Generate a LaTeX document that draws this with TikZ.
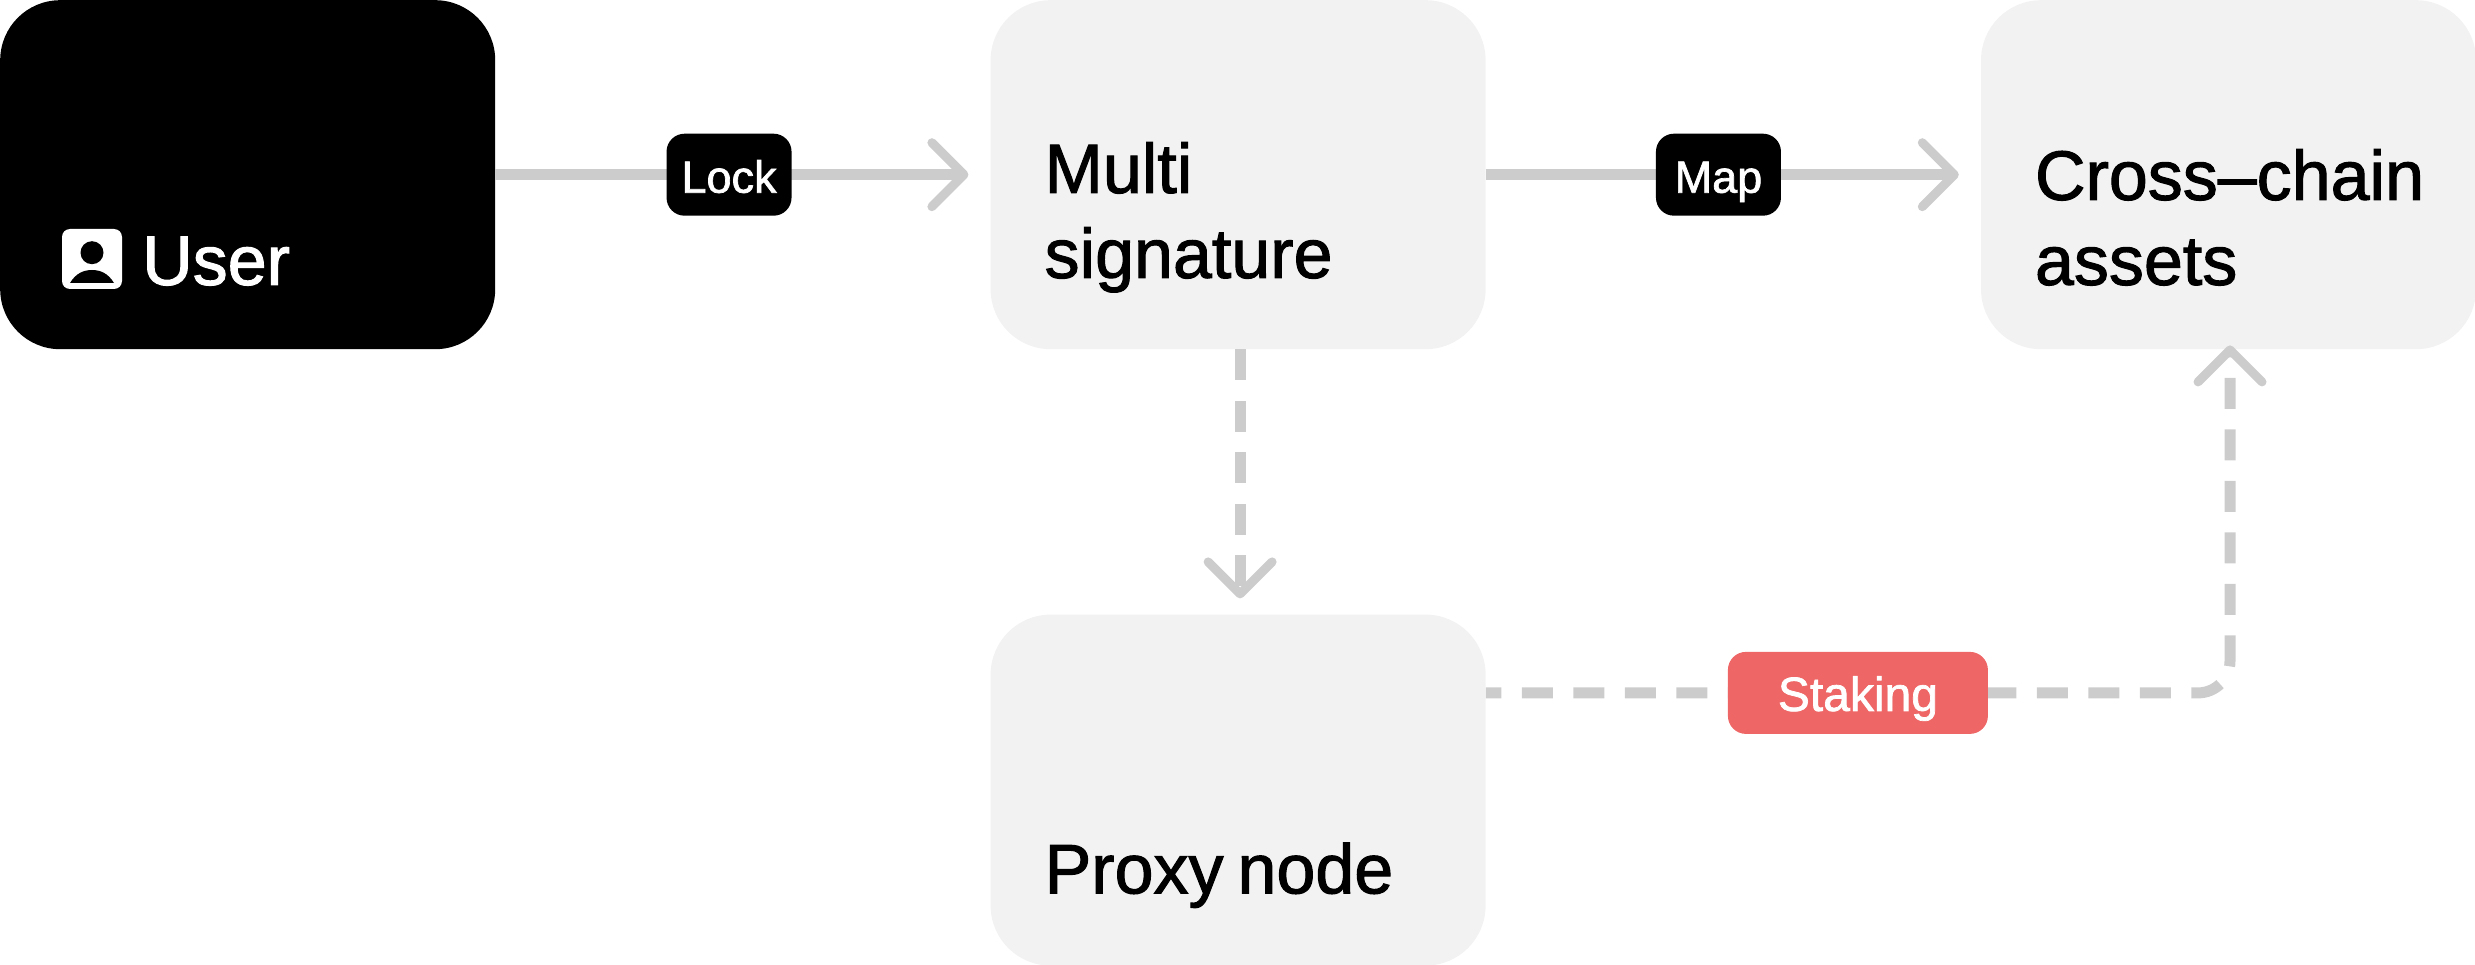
\documentclass[tikz,border=0pt]{standalone}
\usepackage{fontspec}
\setmainfont{Liberation Sans}[FakeBold=1.5]
\usetikzlibrary{arrows.meta, positioning, shapes.geometric}
\definecolor{boxgray}{HTML}{F2F2F2}
\definecolor{linegray}{HTML}{CCCCCC}
\definecolor{tagred}{HTML}{EE6666}

\begin{document}
\begin{tikzpicture}[x=1pt, y=1pt,
        box/.style={rectangle, rounded corners=60pt, fill=boxgray, text=black, inner xsep=54pt, inner ysep=0pt, text width=387pt, minimum height=349pt, align=left, font=\fontsize{70}{85}\selectfont, execute at begin node={\spaceskip=14pt\rule{0pt}{136pt}}},
        tag/.style={rectangle, rounded corners=18pt, fill=black, text=white, inner sep=0pt, minimum width=125pt, text height=59pt, text depth=23pt, font=\fontsize{45}{50}\selectfont},
        link/.style={draw=linegray, line width=11pt, -{Straight Barb[length=32pt, width=64pt, line width=9pt, round]}}]
        \useasboundingbox (0,0) rectangle (2475,-965);
        \node[box, anchor=north west, fill=black, text=white] (user) at (0,0) {~\\\hspace{88pt}User};
        \node[box] (multi) [right = 495pt of user] {Multi\\signature};
        \node[box] (cross) [right = 495pt of multi] {\mbox{Cross–chain}\\assets};
        \node[box, minimum height=351pt] (proxy) [below = 265pt of multi] {~\\Proxy node};
        \coordinate (stake) at ([yshift=-78.5pt]proxy.north east);

        % user icon
        \node[rectangle, rounded corners=8pt, fill=white, inner sep=0pt, minimum width=60pt, minimum height=60pt] (icon) at ([shift={(92,-259)}]user.north west) {};
        \node[circle, fill=black, inner sep=0pt, minimum size=23pt] (head) at ([yshift=6.3pt]icon.center) {};
        \fill[black] ([shift={(-22,-24)}]icon.center) .. controls ([shift={(-16,-14)}]icon.center) and ([shift={(-8,-11)}]icon.center) .. ([yshift=-11pt]icon.center) .. controls ([shift={(8,-11)}]icon.center) and ([shift={(16,-14)}]icon.center) .. ([shift={(22,-24)}]icon.center) -- cycle;

        \path[link, shorten >=22pt] (user) edge node[tag, pos=.472] (lock) {Lock} (multi);
        \path[link, shorten >=22pt] (multi) edge node[tag, pos=.47] (map) {Map} (cross);
        \draw[link, dash pattern=on 31pt off 20.5pt, shorten >=16pt] ([xshift=2pt]multi.south) -- ([xshift=2pt]proxy.north);
        \draw[link, rounded corners=32pt, dash pattern=on 31pt off 20.5pt, dash phase=15.5pt, shorten >=-4pt] (stake) -| node[tag, pos=.25, fill=tagred, minimum width=260pt, font=\fontsize{48}{50}\selectfont] (staking) {Staking} ([xshift=1.5pt]cross.south);
    \end{tikzpicture}
\end{document}
